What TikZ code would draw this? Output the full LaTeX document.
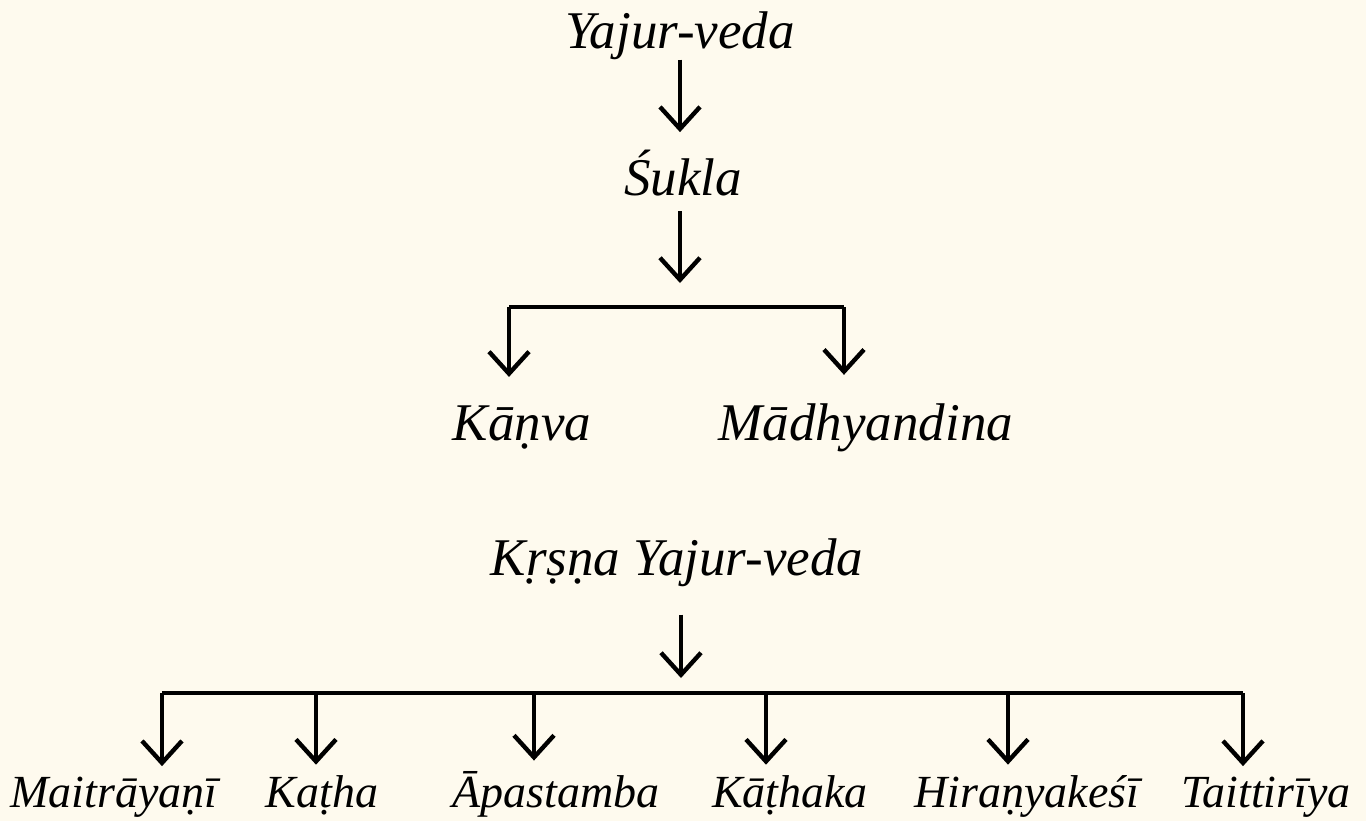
\documentclass[tikz,border=0pt]{standalone}
\usepackage{fontspec}
\setmainfont{Liberation Serif}
\usetikzlibrary{arrows.meta}
\definecolor{paper}{HTML}{FEFAEE}
\begin{document}
\begin{tikzpicture}[x=0.5pt,y=-0.5pt,
  lbl/.style={inner sep=0pt, anchor=base, font=\fontsize{26.5}{30}\selectfont\itshape},
  sml/.style={lbl, font=\fontsize{23}{26}\selectfont\itshape},
  arr/.style={line width=1.7pt, -{Straight Barb[length=11pt,width=20pt,line width=2.2pt]}},
  bar/.style={line width=1.9pt}]
\fill[paper] (0,0) rectangle (1366,821);
\useasboundingbox (0,0) rectangle (1366,821);
% top tree
\node[lbl] (yv) at (680,48) {Yajur-veda};
\node[lbl] (sk) at (683,195) {Śukla};
\coordinate (j1) at (680,307);
\coordinate (bl) at (509,307);
\coordinate (br) at (844,307);
\node[lbl] (kv) at (522,440) {Kāṇva};
\node[lbl] (md) at (866,440) {Mādhyandina};
\draw[arr, shorten >=8.5pt] (yv.south -| j1) -- (sk.north -| j1);
\draw[arr, shorten <=7.5pt, shorten >=12pt] (sk.south -| j1) -- (j1);
\draw[bar] (bl) -- (br);
\draw[arr, shorten >=14pt] (bl) -- (bl |- kv.north);
\draw[arr, shorten >=14pt] (br) -- (br |- md.north);
% bottom tree
\node[lbl] (ky) at (677,575) {Kṛṣṇa Yajur-veda};
\coordinate (j2) at (681,693);
\coordinate (c1) at (162,693);
\coordinate (c2) at (316,693);
\coordinate (c3) at (534,693);
\coordinate (c4) at (766,693);
\coordinate (c5) at (1008,693);
\coordinate (c6) at (1243,693);
\node[sml] (m1) at (114,807) {Maitrāyaṇī};
\node[sml] (m2) at (322,807) {Kaṭha};
\node[sml] (m3) at (556,807) {Āpastamba};
\node[sml] (m4) at (790,807) {Kāṭhaka};
\node[sml] (m5) at (1027,807) {Hiraṇyakeśī};
\node[sml] (m6) at (1266,807) {Taittirīya};
\draw[arr, shorten <=14pt, shorten >=7.5pt] (ky.south -| j2) -- (j2);
\draw[bar] (c1) -- (c6);
\foreach \c/\m in {c1/m1,c2/m2,c3/m3,c4/m4,c5/m5,c6/m6}
  \draw[arr, shorten >=5pt] (\c) -- (\c |- \m.north);
\end{tikzpicture}
\end{document}
